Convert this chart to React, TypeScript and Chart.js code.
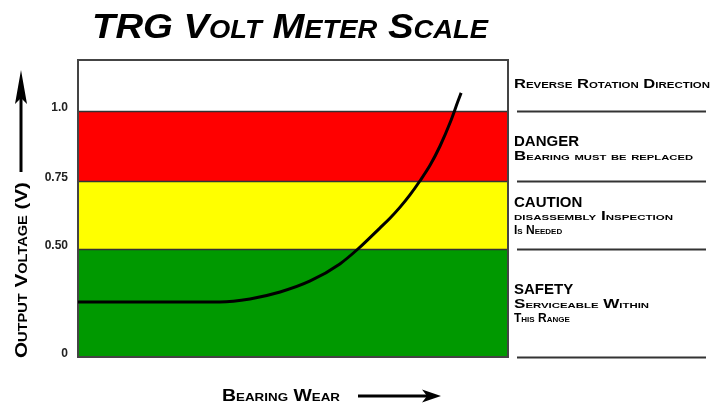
import React, { useEffect, useRef } from 'react';
import { Chart, registerables, LinearScale } from 'chart.js';

// ---- data ----
const wearX = [0, 33.0, 40.0, 47.0, 54.0, 60.9, 65.1, 70.2, 72.6, 74.9, 77.2, 79.5, 81.9, 84.2, 86.5, 88.4, 89.1];
const voltY = [0.255, 0.255, 0.269, 0.301, 0.352, 0.431, 0.5, 0.577, 0.614, 0.654, 0.699, 0.75, 0.807, 0.875, 0.957, 1.036, 1.064];
const tickValues = [0, 0.5, 0.75, 1.0];
const tickLabels = ['0', '0.50', '0.75', '1.0'];
const bandLows = [0, 0.5, 0.75, 1.0];
const bandHighs = [0.5, 0.75, 1.0, 1.18];
const bandColors = ['#009900', '#ffff00', '#ff0000', '#ffffff'];
const titleText = 'TRG Volt Meter Scale';
const yTitle = 'Output Voltage (V)';
const xTitle = 'Bearing Wear';
const bandHeadings = ['SAFETY', 'CAUTION', 'DANGER', ''];
const bandNotes = [
  ['Serviceable Within', 'This Range'],
  ['disassembly Inspection', 'Is Needed'],
  ['Bearing must be replaced'],
  ['Reverse Rotation Direction'],
];

// ---- non-linear axis layout (value -> fraction of plot height) ----
const axisValues = [0, 0.5, 0.75, 1.0, 1.18];
const axisFracs = [0, 108 / 297, 176 / 297, 246 / 297, 1];

function v2f(v: number): number {
  for (let i = 1; i < axisValues.length; i++) {
    if (v <= axisValues[i] || i === axisValues.length - 1) {
      const t = (v - axisValues[i - 1]) / (axisValues[i] - axisValues[i - 1]);
      return axisFracs[i - 1] + t * (axisFracs[i] - axisFracs[i - 1]);
    }
  }
  return 0;
}
function f2v(f: number): number {
  for (let i = 1; i < axisFracs.length; i++) {
    if (f <= axisFracs[i] || i === axisFracs.length - 1) {
      const t = (f - axisFracs[i - 1]) / (axisFracs[i] - axisFracs[i - 1]);
      return axisValues[i - 1] + t * (axisValues[i] - axisValues[i - 1]);
    }
  }
  return 0;
}

class PiecewiseScale extends LinearScale {
  getPixelForValue(value: any) {
    if (value === null || value === undefined || isNaN(value)) return NaN;
    return this.getPixelForDecimal(v2f(+value));
  }
  getValueForPixel(pixel: number) {
    return f2v(this.getDecimalForPixel(pixel));
  }
}
(PiecewiseScale as any).id = 'piecewise';
(PiecewiseScale as any).defaults = (LinearScale as any).defaults;

Chart.register(...registerables, PiecewiseScale as any);

const SANS = "'Liberation Sans', Arial, sans-serif";

function setFont(ctx: CanvasRenderingContext2D, font: string, caps: boolean) {
  ctx.font = font;
  (ctx as any).fontVariantCaps = caps ? 'small-caps' : 'normal';
}

function fitText(ctx: CanvasRenderingContext2D, text: string, x: number, y: number, width?: number) {
  const w = ctx.measureText(text).width;
  ctx.save();
  ctx.translate(x, y);
  if (width) ctx.scale(width / w, 1);
  ctx.fillText(text, 0, 0);
  ctx.restore();
}

const bandsPlugin = {
  id: 'bands',
  beforeDatasetsDraw(chart: any) {
    const { ctx, chartArea } = chart;
    const y = chart.scales.y;
    ctx.save();
    for (let i = 0; i < bandLows.length; i++) {
      const top = y.getPixelForValue(bandHighs[i]);
      const bot = y.getPixelForValue(bandLows[i]);
      ctx.fillStyle = bandColors[i];
      ctx.fillRect(chartArea.left, top, chartArea.right - chartArea.left, bot - top);
    }
    ctx.strokeStyle = '#333';
    ctx.lineWidth = 1.5;
    for (let i = 1; i < bandLows.length; i++) {
      const py = Math.round(y.getPixelForValue(bandLows[i])) + 0.5;
      ctx.beginPath();
      ctx.moveTo(chartArea.left, py);
      ctx.lineTo(chartArea.right, py);
      ctx.stroke();
    }
    ctx.lineWidth = 2;
    ctx.strokeStyle = '#444';
    ctx.strokeRect(chartArea.left, chartArea.top, chartArea.right - chartArea.left, chartArea.bottom - chartArea.top);
    ctx.restore();
  },
  afterDraw(chart: any) {
    const { ctx } = chart;
    const y = chart.scales.y;
    ctx.save();
    ctx.fillStyle = '#000';
    ctx.textBaseline = 'alphabetic';
    ctx.textAlign = 'left';

    // title
    setFont(ctx, `italic bold 35px 'Liberation Sans Narrow', ${SANS}`, true);
    fitText(ctx, titleText, 92, 38, 396);

    // right-hand separators
    ctx.strokeStyle = '#333';
    ctx.lineWidth = 2;
    for (let i = 0; i < tickValues.length; i++) {
      const py = Math.round(y.getPixelForValue(tickValues[i])) + 0.5;
      ctx.beginPath();
      ctx.moveTo(517, py);
      ctx.lineTo(706, py);
      ctx.stroke();
    }

    // right-hand notes
    const tx = 514;
    setFont(ctx, `bold 13px ${SANS}`, true);
    fitText(ctx, bandNotes[3][0], tx, 88, 196);
    setFont(ctx, `bold 15px ${SANS}`, false);
    fitText(ctx, bandHeadings[2], tx, 146);
    setFont(ctx, `bold 12px ${SANS}`, true);
    fitText(ctx, bandNotes[2][0], tx, 160, 179);
    setFont(ctx, `bold 15px ${SANS}`, false);
    fitText(ctx, bandHeadings[1], tx, 207);
    setFont(ctx, `bold 12px ${SANS}`, true);
    fitText(ctx, bandNotes[1][0], tx, 220, 159);
    fitText(ctx, bandNotes[1][1], tx, 234);
    setFont(ctx, `bold 15px ${SANS}`, false);
    fitText(ctx, bandHeadings[0], tx, 294);
    setFont(ctx, `bold 12px ${SANS}`, true);
    fitText(ctx, bandNotes[0][0], tx, 308, 135);
    fitText(ctx, bandNotes[0][1], tx, 322);

    // y-axis title (rotated) and arrow
    ctx.save();
    ctx.translate(27, 358);
    ctx.rotate(-Math.PI / 2);
    setFont(ctx, `bold 17px ${SANS}`, true);
    fitText(ctx, yTitle, 0, 0, 176);
    ctx.restore();

    ctx.strokeStyle = '#000';
    ctx.lineWidth = 3;
    ctx.beginPath();
    ctx.moveTo(21, 172);
    ctx.lineTo(21, 95);
    ctx.stroke();
    ctx.beginPath();
    ctx.moveTo(21, 70);
    ctx.lineTo(27, 104);
    ctx.lineTo(21, 98);
    ctx.lineTo(15, 104);
    ctx.closePath();
    ctx.fill();

    // x-axis title and arrow
    setFont(ctx, `bold 16px ${SANS}`, true);
    fitText(ctx, xTitle, 222, 401, 118);
    ctx.beginPath();
    ctx.moveTo(358, 396);
    ctx.lineTo(428, 396);
    ctx.stroke();
    ctx.beginPath();
    ctx.moveTo(441, 396);
    ctx.lineTo(422, 389.5);
    ctx.lineTo(427, 396);
    ctx.lineTo(422, 402.5);
    ctx.closePath();
    ctx.fill();

    ctx.restore();
  },
};

export default function App() {
  const ref = useRef<HTMLCanvasElement>(null);
  useEffect(() => {
    document.body.style.margin = '0';
    const canvas = ref.current!;
    const chart = new Chart(canvas, {
      type: 'line',
      data: {
        datasets: [
          {
            data: wearX.map((x, i) => ({ x, y: voltY[i] })),
            borderColor: '#000',
            borderWidth: 3,
            pointRadius: 0,
            cubicInterpolationMode: 'monotone',
            fill: false,
          },
        ],
      },
      options: {
        animation: false,
        responsive: false,
        events: [],
        layout: { padding: { top: 60, right: 210, bottom: 47, left: 0 } },
        plugins: { legend: { display: false }, tooltip: { enabled: false }, title: { display: false } },
        scales: {
          x: { type: 'linear', min: 0, max: 100, display: false },
          y: {
            type: 'piecewise' as any,
            min: 0,
            max: 1.18,
            grid: { display: false, drawTicks: false },
            border: { display: false },
            afterBuildTicks: (axis: any) => {
              axis.ticks = tickValues.map((v) => ({ value: v }));
            },
            afterFit: (axis: any) => {
              axis.width = 78;
            },
            ticks: {
              padding: 10,
              labelOffset: -3,
              color: '#222',
              font: { family: SANS, size: 12, weight: 'bold' },
              callback: (_v: any, i: number) => tickLabels[i],
            },
          },
        },
      } as any,
      plugins: [bandsPlugin],
    });
    return () => chart.destroy();
  }, []);
  return (
    <div style={{ width: 718, height: 404, background: '#fff' }}>
      <canvas ref={ref} width={718} height={404} style={{ width: 718, height: 404, display: 'block' }} />
    </div>
  );
}
